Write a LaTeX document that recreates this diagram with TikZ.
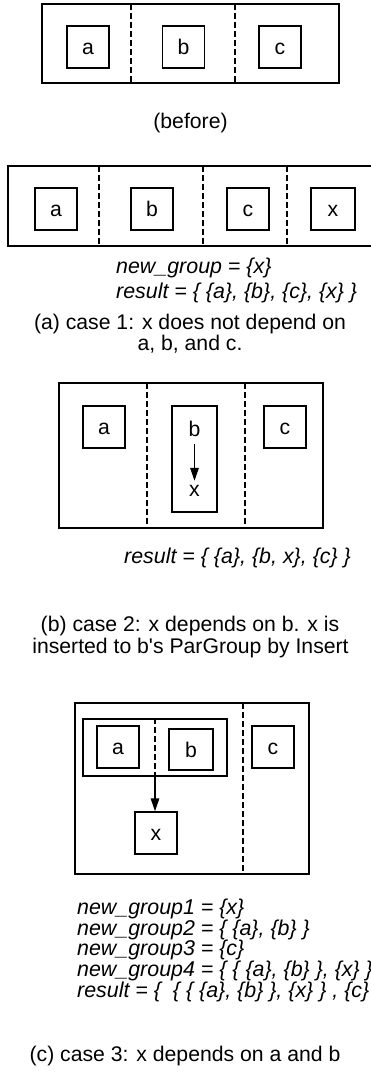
\documentclass[tikz,border=0pt]{standalone}
\usepackage{fontspec}
\setmainfont{Liberation Sans}[Ligatures=TeXOff]
\usepackage{tikz}
\usetikzlibrary{arrows.meta}
\tikzstyle{frame}=[draw, line width=1.5bp]
\tikzstyle{sep}=[draw, line width=1.4bp, dash pattern=on 6bp off 3bp]
\tikzstyle{elem}=[draw, line width=1.4bp, inner sep=0pt, minimum width=42bp, minimum height=42bp,
    text height=15bp, text depth=0bp]
\tikzstyle{lbl}=[inner sep=0pt, text height=15bp, text depth=0bp]
\tikzstyle{line}=[anchor=base west, inner sep=0pt, font=\fontsize{21.4bp}{25bp}\selectfont\itshape]
\tikzstyle{capt}=[anchor=base, inner sep=0pt]
\newcommand{\elem}{\node[elem]}

\begin{document}
\begin{tikzpicture}[x=1bp, y=-1bp,
    every node/.style={font=\fontsize{21.2bp}{25bp}\selectfont},
    every edge/.style={draw, line width=1.4bp, -{Triangle[length=13bp, width=8.5bp]}}
]
\useasboundingbox (0,0) rectangle (370,1078);

% before
\draw[frame] (42,4) rectangle (339,83);
\draw[sep] (131,4) -- (131,83);
\draw[sep] (235,4) -- (235,83);
\elem (a0) at (88,47) {a};
\elem (b0) at (183.5,47) {b};
\elem (c0) at (280,47) {c};
\node[capt] (cap0) at (190.5,128) {(before)};

% case 1
\draw[frame] (8,166) rectangle (375,246);
\draw[sep] (99,166) -- (99,246);
\draw[sep] (203,166) -- (203,246);
\draw[sep] (287,166) -- (287,246);
\elem (a1) at (56,209) {a};
\elem (b1) at (152,209) {b};
\elem (c1) at (248,209) {c};
\elem (x1) [minimum width=44bp] at (333,209) {x};
\node[line] (new1) at (116,273) {new\_group = \{x\}};
\node[line] (res1) at (116,298) {result = \{ \{a\}, \{b\}, \{c\}, \{x\} \}};
\node[capt] (cap1a) at (190,329) {(a) case 1: x does not depend on};
\node[capt] (cap1b) at (190,350) {a, b, and c.};

% case 2
\draw[frame] (59,383) rectangle (323,528);
\draw[sep] (147,383) -- (147,528);
\draw[sep] (245,383) -- (245,528);
\elem (a2) at (104,427) {a};
\elem (c2) at (285,427) {c};
\node[draw, line width=1.4bp, minimum width=45bp, minimum height=106bp] (bx2) at (194.5,459) {};
\node[lbl, anchor=base] (b2) at (194.5,436) {b};
\node[lbl, anchor=base] (x2) at (194.5,496) {x};
\path (b2) edge [shorten <=8bp, shorten >=0bp] (x2);
\node[line] (res2) at (124,563) {result = \{ \{a\}, \{b, x\}, \{c\} \}};
\node[capt] (cap2a) at (190,631) {(b) case 2: x depends on b. x is};
\node[capt] (cap2b) at (190.5,653) {inserted to b's ParGroup by Insert};

% case 3
\draw[frame] (75,703) rectangle (309,874);
\draw[sep] (243,703) -- (243,874);
\node[draw, line width=1.4bp, minimum width=144bp, minimum height=57bp] (ab3) at (155,747.5) {};
\draw[sep] (ab3.north) -- (ab3.south);
\elem (a3) at (118,747) {a};
\elem (b3) [minimum width=44bp, minimum height=41bp] at (191,749.5) {b};
\elem (c3) at (273,747) {c};
\elem (x3) at (156,833) {x};
\path (ab3.south) edge (ab3.south |- x3.north);
\node[line] (new31) at (77,914) {new\_group1 = \{x\}};
\node[line] (new32) at (77,935) {new\_group2 = \{ \{a\}, \{b\} \}};
\node[line] (new33) at (77,955) {new\_group3 = \{c\}};
\node[line] (new34) at (77,976) {new\_group4 = \{ \{ \{a\}, \{b\} \}, \{x\} \}};
\node[line] (res3) at (77,997) {result = \{ ~\{ \{ \{a\}, \{b\} \}, \{x\} \} , \{c\}};
\node[capt] (cap3) at (185,1061) {(c) case 3: x depends on a and b};
\end{tikzpicture}
\end{document}
